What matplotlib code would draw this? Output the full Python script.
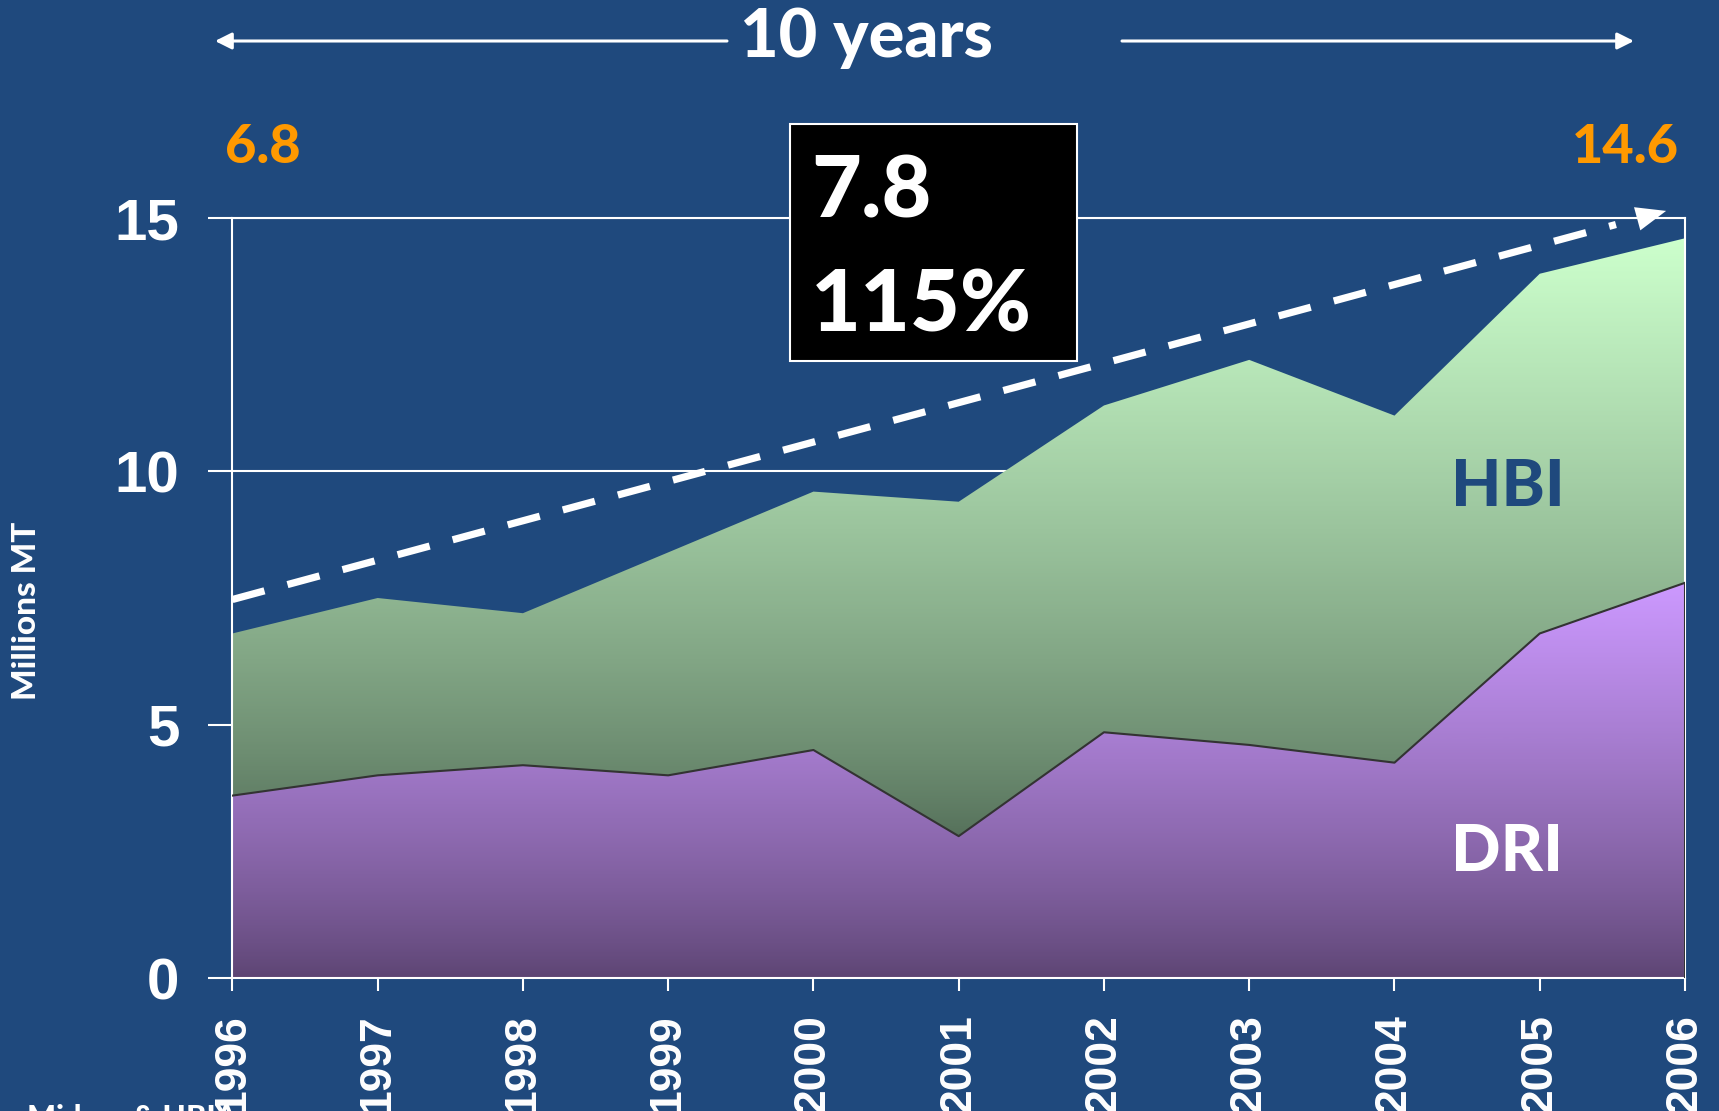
"""DRI / HBI production 1996-2006, stacked area with gradient fills."""
import matplotlib
matplotlib.use("Agg")
import matplotlib.pyplot as plt
import numpy as np
from matplotlib.colors import LinearSegmentedColormap
from matplotlib.patches import Rectangle

# data (millions MT)
years = [1996, 1997, 1998, 1999, 2000, 2001, 2002, 2003, 2004, 2005, 2006]
dri = [3.6, 4.0, 4.2, 4.0, 4.5, 2.8, 4.85, 4.6, 4.25, 6.8, 7.8]
hbi = [3.2, 3.5, 3.0, 4.4, 5.1, 6.6, 6.45, 7.6, 6.85, 7.1, 6.8]
trend_x = [1996, 2005.87]
trend_y = [7.47, 15.14]
y_ticks = [0, 5, 10, 15]
start_label, end_label = "6.8", "14.6"
growth_abs, growth_pct = "7.8", "115%"

BG = "#1F497D"
plt.rcParams["font.family"] = ["Liberation Sans", "DejaVu Sans"]
plt.rcParams["font.weight"] = "bold"
CAL = ["Lato", "DejaVu Sans"]
HEAVY = "black"

W, H = 1719, 1111
fig = plt.figure(figsize=(W / 100, H / 100), dpi=100)
fig.patch.set_facecolor(BG)
ax = fig.add_axes([232.4 / W, 1 - 978 / H, (1685 - 232.4) / W, (978 - 218) / H])
ax.set_facecolor(BG)

x = np.array(years, dtype=float)
lower = np.array(dri)
upper = lower + np.array(hbi)


def gradient_fill(y0, y1, c_top, c_bot, lo, hi):
    poly = ax.fill_between(x, y0, y1, facecolor="none", edgecolor="none")
    cmap = LinearSegmentedColormap.from_list("g", [c_bot, c_top])
    ramp = (np.linspace(0, 1, 256) ** 0.8).reshape(-1, 1)
    im = ax.imshow(ramp, cmap=cmap, aspect="auto", origin="lower",
                   extent=[x[0], x[-1], lo, hi], zorder=1, interpolation="bilinear")
    im.set_clip_path(poly.get_paths()[0], transform=ax.transData)


gradient_fill(np.zeros_like(lower), lower, "#CC99FF", "#5C4472", 0, lower.max())
gradient_fill(lower, upper, "#CCFFCC", "#55705A", lower.min(), upper.max())
ax.plot(x, lower, color="#333333", lw=1.5, zorder=3)
ax.plot([x[-1], x[-1]], [0, lower[-1]], color="#333333", lw=1.5, zorder=3)

# dashed trend arrow
tx0, ty0 = trend_x[0], trend_y[0]
tx1, ty1 = trend_x[1], trend_y[1]
ex, ey = tx0 + 0.965 * (tx1 - tx0), ty0 + 0.965 * (ty1 - ty0)
ax.plot([tx0, ex], [ty0, ey], color="white", lw=5.2, dashes=(4.6, 3.3),
        solid_capstyle="butt", dash_capstyle="butt", clip_on=False, zorder=4)
ax.annotate("", xy=(tx1, ty1), xytext=(ex - 0.05, ey - 0.04),
            arrowprops=dict(arrowstyle="-|>,head_length=0.4,head_width=0.16",
                            mutation_scale=54, color="white", lw=0,
                            shrinkA=0, shrinkB=0),
            annotation_clip=False, zorder=4)

ax.set_xlim(years[0], years[-1])
ax.set_ylim(0, 15)
ax.set_xticks(years)
ax.set_yticks(y_ticks)
ax.set_axisbelow(True)
ax.grid(axis="y", color="white", lw=1.5)
for s in ax.spines.values():
    s.set_color("white")
    s.set_linewidth(1.5)
ax.tick_params(axis="y", length=17, width=1.5, color="white", pad=21,
               labelsize=42, labelcolor="white")
# year labels run off the bottom edge, as on the original slide
ax.tick_params(axis="x", length=9.5, width=1.5, color="white", pad=16.5,
               labelsize=32, labelcolor="white", labelrotation=90)

# overlay in pixel coordinates for slide annotations
ov = fig.add_axes([0, 0, 1, 1], zorder=5)
ov.set_xlim(0, W)
ov.set_ylim(H, 0)
ov.axis("off")
ov.patch.set_alpha(0)

ov.text(867, 57, "10 years", color="white", fontsize=48, family=CAL,
        fontweight=HEAVY, ha="center", va="baseline")
arrow_kw = dict(arrowstyle="-|>,head_length=0.5,head_width=0.25", mutation_scale=20,
                color="white", lw=2.2, shrinkA=0, shrinkB=0)
ov.annotate("", xy=(215, 41), xytext=(727, 41), arrowprops=arrow_kw)
ov.annotate("", xy=(1634, 41), xytext=(1122, 41), arrowprops=arrow_kw)

ov.text(225, 163, start_label, color="#FF9900", fontsize=39, family=CAL,
        fontweight=HEAVY, ha="left", va="baseline")
ov.text(1679, 163, end_label, color="#FF9900", fontsize=39, family=CAL,
        fontweight=HEAVY, ha="right", va="baseline")

ov.add_patch(Rectangle((790, 124), 287, 237, facecolor="black",
                       edgecolor="white", lw=1.5))
ov.text(811, 217, growth_abs, color="white", fontsize=62, family=CAL,
        fontweight=HEAVY, ha="left", va="baseline")
ov.text(811, 332, growth_pct, color="white", fontsize=62, family=CAL,
        fontweight=HEAVY, ha="left", va="baseline")

ov.text(1451, 506, "HBI", color=BG, fontsize=47, family=CAL,
        fontweight=HEAVY, ha="left", va="baseline")
ov.text(1451, 871, "DRI", color="white", fontsize=47, family=CAL,
        fontweight=HEAVY, ha="left", va="baseline")

ov.text(27, 611, "Millions MT", color="white", fontsize=24, family=CAL,
        fontweight=HEAVY, rotation=90, ha="center", va="center")
ov.text(27, 1104, "Midrex & HBIA", color="white", fontsize=22, family=CAL,
        fontweight=HEAVY, ha="left", va="top")

fig.savefig("out.png", dpi=100, facecolor=BG)
